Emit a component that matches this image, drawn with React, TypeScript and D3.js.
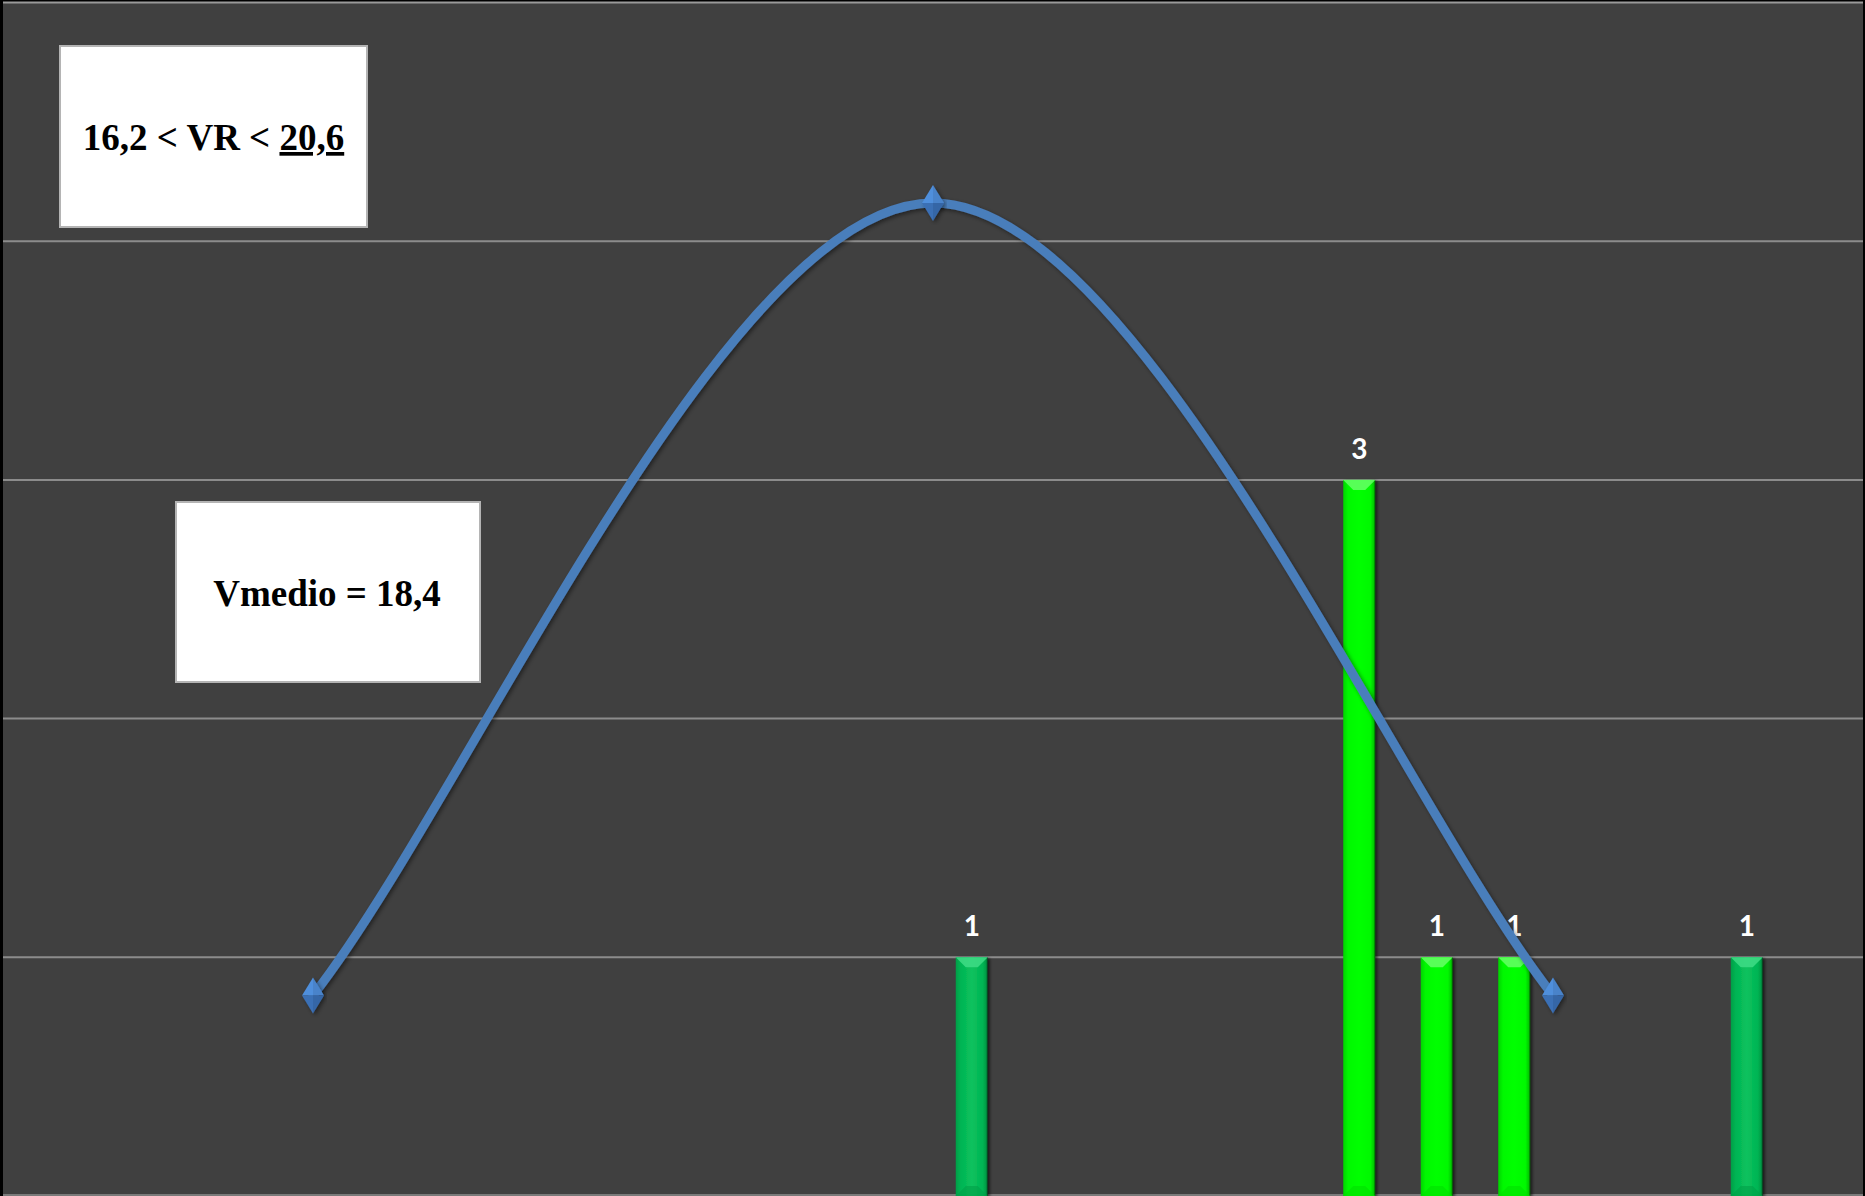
import React from "react";
import * as d3 from "d3";

// Histogram bins (lower bound of each class, width 0,275)
const bins = [
  "15,100", "15,375", "15,650", "15,925", "16,200", "16,475", "16,750", "17,025",
  "17,300", "17,575", "17,850", "18,125", "18,400", "18,675", "18,950", "19,225",
  "19,500", "19,775", "20,050", "20,325", "20,600", "20,875", "21,150", "21,425",
];
// Frequencies, split in two series (dark green / bright green)
const countsDark = [0, 0, 0, 0, 0, 0, 0, 0, 0, 0, 0, 0, 1, 0, 0, 0, 0, 0, 0, 0, 0, 0, 1, 0];
const countsBright = [0, 0, 0, 0, 0, 0, 0, 0, 0, 0, 0, 0, 0, 0, 0, 0, 0, 3, 1, 1, 0, 0, 0, 0];
// Normal curve points (value, height)
const curveX = [16.2, 18.4, 20.6];
const curveY = [0.84, 4.16, 0.84];
const xDomain = [15.1, 21.7];
const yTicks = [1, 2, 3, 4, 5];
const boxRange = { lo: "16,2", hi: "20,6" };
const boxMean = "Vmedio = 18,4";

const W = 1865;
const H = 1196;
const plot = { left: 3, right: 1863, top: 3, bottom: 1196 };

function smoothPath(pts: [number, number][], a: number, b: number) {
  const p = d3.path();
  p.moveTo(pts[0][0], pts[0][1]);
  const n = pts.length;
  for (let i = 0; i < n - 1; i++) {
    const p1 = pts[i];
    const p2 = pts[i + 1];
    const p0 = pts[i - 1];
    const p3 = pts[i + 2];
    const c1 =
      i === 0
        ? [p1[0] + a * (p2[0] - p1[0]), p1[1] + a * (p2[1] - p1[1])]
        : [p1[0] + b * (p2[0] - p0[0]), p1[1] + b * (p2[1] - p0[1])];
    const c2 =
      i + 1 === n - 1
        ? [p2[0] - a * (p2[0] - p1[0]), p2[1] - a * (p2[1] - p1[1])]
        : [p2[0] - b * (p3[0] - p1[0]), p2[1] - b * (p3[1] - p1[1])];
    p.bezierCurveTo(c1[0], c1[1], c2[0], c2[1], p2[0], p2[1]);
  }
  return p.toString();
}

export default function App() {
  const xBand = d3
    .scaleBand<string>()
    .domain(bins)
    .range([plot.left, plot.right])
    .paddingInner(0.587)
    .paddingOuter(0.2935);
  const xLin = d3.scaleLinear().domain(xDomain).range([plot.left, plot.right]);
  const y = d3.scaleLinear().domain([0, 5]).range([plot.bottom, plot.top - 0.5]);

  const pts: [number, number][] = curveX.map((v, i) => [xLin(v), y(curveY[i])]);
  const linePath = smoothPath(pts, 0.25, 1 / 6);

  const bw = xBand.bandwidth();

  const renderBars = (counts: number[], kind: "dark" | "bright") =>
    counts.map((c, i) => {
      if (!c) return null;
      const x0 = xBand(bins[i]) as number;
      const yt = y(c);
      const yb = y(0);
      const bev = 10;
      const topFill = kind === "dark" ? "#3fdc86" : "#66ff66";
      return (
        <g key={kind + i}>
          <rect x={x0} y={yt} width={bw} height={yb - yt} fill={`url(#grad-${kind})`} filter="url(#barShadow)" />
          <path
            d={`M${x0},${yt}L${x0 + bw},${yt}L${x0 + bw - bev},${yt + bev}L${x0 + bev},${yt + bev}Z`}
            fill={topFill}
            opacity={0.85}
          />
          <path
            d={`M${x0},${yb}L${x0 + bw},${yb}L${x0 + bw - bev},${yb - bev}L${x0 + bev},${yb - bev}Z`}
            fill={kind === "dark" ? "#00a048" : "#00e000"}
            opacity={0.6}
          />
          <text
            x={x0 + bw / 2}
            y={yt - 21}
            textAnchor="middle"
            fill="#ffffff"
            fontFamily="Lato, 'Open Sans', sans-serif"
            fontWeight={700}
            fontSize={28}
          >
            {c}
          </text>
        </g>
      );
    });

  const diamond = (cx: number, cy: number, k: number) => {
    const hw = 11;
    const hh = 18;
    return (
      <g key={k} filter="url(#lineShadow)">
        <path d={`M${cx - hw},${cy}L${cx},${cy - hh}L${cx + hw},${cy}Z`} fill="#4f8fdc" />
        <path d={`M${cx - hw},${cy}L${cx + hw},${cy}L${cx},${cy + hh}Z`} fill="#3a6fb5" />
        <path d={`M${cx},${cy - hh}L${cx + hw},${cy}L${cx},${cy + hh}Z`} fill="#000" opacity={0.08} />
      </g>
    );
  };

  return (
    <>
      <style>{"body{margin:0;background:#000}"}</style>
      <svg width={W} height={H} style={{ display: "block" }}>
        <defs>
          <linearGradient id="grad-dark" x1="0" x2="1" y1="0" y2="0">
            <stop offset="0" stopColor="#009e48" />
            <stop offset="0.15" stopColor="#00b453" />
            <stop offset="0.5" stopColor="#0cc25e" />
            <stop offset="0.85" stopColor="#00b453" />
            <stop offset="0.95" stopColor="#009a45" />
            <stop offset="1" stopColor="#00401c" />
          </linearGradient>
          <linearGradient id="grad-bright" x1="0" x2="1" y1="0" y2="0">
            <stop offset="0" stopColor="#00d400" />
            <stop offset="0.15" stopColor="#00f800" />
            <stop offset="0.5" stopColor="#00ff00" />
            <stop offset="0.85" stopColor="#00f800" />
            <stop offset="0.95" stopColor="#00cc00" />
            <stop offset="1" stopColor="#005500" />
          </linearGradient>
          <filter id="barShadow" x="-30%" y="-5%" width="160%" height="110%">
            <feDropShadow dx="2" dy="1" stdDeviation="1.5" floodColor="#000" floodOpacity="0.6" />
          </filter>
          <filter id="lineShadow" x="-10%" y="-10%" width="120%" height="120%">
            <feDropShadow dx="2" dy="2" stdDeviation="2" floodColor="#000" floodOpacity="0.45" />
          </filter>
        </defs>
        <rect x={0} y={0} width={W} height={H} fill="#000" />
        <rect x={plot.left} y={plot.top - 1} width={plot.right - plot.left} height={plot.bottom - plot.top + 1} fill="#404040" />
        {yTicks.map((t) => (
          <line
            key={t}
            x1={plot.left}
            x2={plot.right}
            y1={y(t)}
            y2={y(t)}
            stroke={t === 5 ? "#9a9a9a" : "#8c8c8c"}
            strokeWidth={2}
          />
        ))}
        <line x1={plot.left} x2={plot.right} y1={1195} y2={1195} stroke="#7a7a7a" strokeWidth={2} />

        {renderBars(countsDark, "dark")}
        {renderBars(countsBright, "bright")}

        <path d={linePath} fill="none" stroke="#4a7ebb" strokeWidth={9} strokeLinecap="round" filter="url(#lineShadow)" />
        {pts.map((p, i) => diamond(p[0], p[1], i))}

        <rect x={60} y={46} width={307} height={181} fill="#fff" stroke="#b4b4b4" strokeWidth={2} />
        <text
          x={213.5}
          y={150}
          textAnchor="middle"
          fontFamily="'Liberation Serif', 'Times New Roman', serif"
          fontWeight={700}
          fontSize={37}
          fill="#000"
        >
          {`${boxRange.lo} < VR < `}
          <tspan textDecoration="underline" style={{ textDecoration: "underline" }}>
            {boxRange.hi}
          </tspan>
        </text>

        <rect x={176} y={502} width={304} height={180} fill="#fff" stroke="#b4b4b4" strokeWidth={2} />
        <text
          x={327}
          y={606}
          textAnchor="middle"
          fontFamily="'Liberation Serif', 'Times New Roman', serif"
          fontWeight={700}
          fontSize={37}
          fill="#000"
        >
          {boxMean}
        </text>
      </svg>
    </>
  );
}
